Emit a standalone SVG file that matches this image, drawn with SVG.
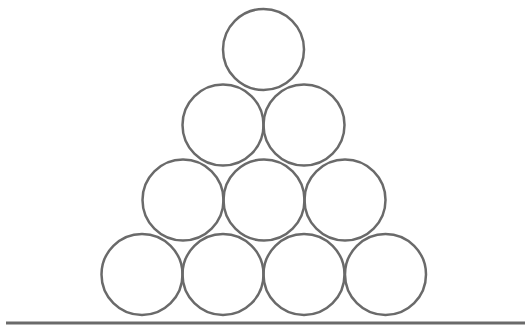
<svg xmlns="http://www.w3.org/2000/svg" width="525" height="331" viewBox="0 0 525 331">
<style>
.c{fill:none;stroke:#6a6a6a;stroke-width:2.5}
.g{fill:none;stroke:#6a6a6a;stroke-width:3}
</style>
<rect width="525" height="331" fill="#fff"/>
<g id="row1"><circle class="c" cx="263.5" cy="49.5" r="40.5"/></g>
<g id="row2"><circle class="c" cx="223" cy="125" r="40.5"/><circle class="c" cx="304" cy="125" r="40.5"/></g>
<g id="row3"><circle class="c" cx="183" cy="200" r="40.5"/><circle class="c" cx="264" cy="200" r="40.5"/><circle class="c" cx="345" cy="200" r="40.5"/></g>
<g id="row4"><circle class="c" cx="142" cy="274.5" r="40.5"/><circle class="c" cx="223" cy="274.5" r="40.5"/><circle class="c" cx="304" cy="274.5" r="40.5"/><circle class="c" cx="385.5" cy="274.5" r="40.5"/></g>
<g id="ground"><line class="g" x1="6" y1="323" x2="525" y2="323"/></g>
</svg>
